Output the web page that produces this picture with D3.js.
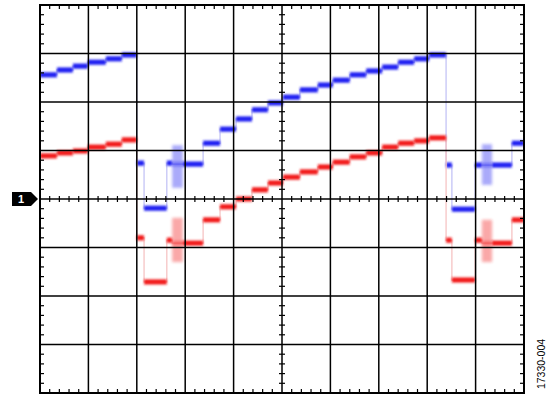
<!DOCTYPE html>
<html>
<head>
<meta charset="utf-8">
<title>17330-004</title>
<style>
body { margin: 0; background: #fff; }
svg { display: block; }
.grid line { stroke: #000; stroke-width: 1.5; }
.ticks line { stroke: #000; stroke-width: 1.2; }
</style>
</head>
<body>
<svg width="549" height="394"></svg>
<script src="https://cdn.jsdelivr.net/npm/d3@7"></script>
<script>
// step edges, in horizontal divisions; both channels switch together
var stepEdges = [0, 0.35, 0.68, 0.99, 1.36, 1.69, 2.00, 2.15, 2.62, 2.73, 2.95, 3.37, 3.72, 4.05,
  4.38, 4.71, 5.02, 5.37, 5.74, 6.05, 6.40, 6.74, 7.07, 7.40, 7.73, 8.04, 8.39, 8.51, 8.99,
  9.13, 9.34, 9.75, 10];

// level of each step, in vertical divisions from the "1" marker
var blueLevels = [2.56, 2.66, 2.74, 2.82, 2.89, 2.97, 0.74, -0.19, 0.74, 0.72, 0.72, 1.15, 1.44,
  1.65, 1.84, 1.98, 2.10, 2.25, 2.35, 2.45, 2.56, 2.64, 2.72, 2.82, 2.89, 2.97, 0.70, -0.21,
  0.70, 0.70, 0.70, 1.15];
var redLevels = [0.89, 0.95, 0.99, 1.07, 1.13, 1.22, -0.80, -1.71, -0.85, -0.91, -0.91, -0.43,
  -0.16, 0.00, 0.19, 0.33, 0.45, 0.56, 0.66, 0.76, 0.87, 0.95, 1.07, 1.15, 1.20, 1.26, -0.85,
  -1.67, -0.85, -0.91, -0.91, -0.43];

// noisy bursts: [start, end, low, high]
var blueBursts = [[2.73, 2.95, 0.23, 1.11], [9.13, 9.34, 0.29, 1.13]];
var redBursts = [[2.73, 2.95, -1.30, -0.39], [9.13, 9.34, -1.30, -0.43]];

var xDivs = d3.range(0, 11);
var yDivs = d3.range(-4, 5);

var svg = d3.select("svg");

var x = d3.scaleLinear().domain([0, 10]).range([40, 524]);
var y = d3.scaleLinear().domain([-4, 4]).range([393, 5]);

var defs = svg.append("defs");
// user space filter regions, so flat lines still blur
defs.append("filter").attr("id", "soft")
    .attr("filterUnits", "userSpaceOnUse")
    .attr("x", 0).attr("y", 0).attr("width", 549).attr("height", 394)
  .append("feGaussianBlur").attr("stdDeviation", 0.9);
defs.append("filter").attr("id", "softer")
    .attr("filterUnits", "userSpaceOnUse")
    .attr("x", 0).attr("y", 0).attr("width", 549).attr("height", 394)
  .append("feGaussianBlur").attr("stdDeviation", 1.4);
defs.append("clipPath").attr("id", "plot")
  .append("rect")
    .attr("x", x(0)).attr("y", y(4))
    .attr("width", x(10) - x(0)).attr("height", y(-4) - y(4));

function inBurst(bursts, i) {
  return bursts.some(function(b) { return stepEdges[i] >= b[0] - 0.001 && stepEdges[i + 1] <= b[1] + 0.001; });
}

function drawTrace(levels, bursts, color, faint) {
  var g = svg.append("g").attr("clip-path", "url(#plot)");

  // thin transitions
  var pts = levels.map(function(v, i) { return [stepEdges[i], v]; });
  pts.push([10, levels[levels.length - 1]]);
  g.append("path")
      .attr("d", d3.line()
        .x(function(d) { return x(d[0]); })
        .y(function(d) { return y(d[1]); })
        .curve(d3.curveStepAfter)(pts))
      .attr("fill", "none")
      .attr("stroke", faint)
      .attr("stroke-width", 1.3);

  // bursts
  g.selectAll("rect.burst")
    .data(bursts)
    .enter().append("rect")
      .attr("class", "burst")
      .attr("x", function(d) { return x(d[0]); })
      .attr("width", function(d) { return x(d[1]) - x(d[0]); })
      .attr("y", function(d) { return y(d[3]); })
      .attr("height", function(d) { return y(d[2]) - y(d[3]); })
      .attr("fill", color)
      .attr("opacity", 0.38)
      .attr("filter", "url(#softer)");

  // flat steps
  g.selectAll("line.step")
    .data(levels)
    .enter().append("line")
      .attr("class", "step")
      .attr("x1", function(d, i) { return x(stepEdges[i]); })
      .attr("x2", function(d, i) { return x(stepEdges[i + 1]); })
      .attr("y1", function(d) { return y(d); })
      .attr("y2", function(d) { return y(d); })
      .attr("stroke", color)
      .attr("stroke-width", 5.2)
      .attr("opacity", function(d, i) { return inBurst(bursts, i) ? 0.35 : 1; })
      .attr("filter", "url(#soft)");
}

drawTrace(blueLevels, blueBursts, "#2424f2", "#c4c4f6");
drawTrace(redLevels, redBursts, "#f21f1f", "#f6c4c4");

// graticule
var grid = svg.append("g").attr("class", "grid");
grid.selectAll("line.v")
  .data(xDivs.slice(1, -1))
  .enter().append("line")
    .attr("class", "v")
    .attr("x1", function(d) { return x(d); }).attr("x2", function(d) { return x(d); })
    .attr("y1", y(4)).attr("y2", y(-4));
grid.selectAll("line.h")
  .data(yDivs.slice(1, -1))
  .enter().append("line")
    .attr("class", "h")
    .attr("y1", function(d) { return y(d); }).attr("y2", function(d) { return y(d); })
    .attr("x1", x(0)).attr("x2", x(10));

svg.append("rect")
    .attr("x", x(0)).attr("y", y(4))
    .attr("width", x(10) - x(0)).attr("height", y(-4) - y(4))
    .attr("fill", "none")
    .attr("stroke", "#000")
    .attr("stroke-width", 2);

// minor ticks, five per division
var xMinor = d3.range(1, 50).map(function(i) { return i / 5; }).filter(function(d) { return Math.abs(d - Math.round(d)) > 0.01; });
var yMinor = d3.range(-19, 20).map(function(i) { return i / 5; }).filter(function(d) { return Math.abs(d - Math.round(d)) > 0.01; });
var ticks = svg.append("g").attr("class", "ticks");

function hTicks(yPos, up, down) {
  ticks.append("g").selectAll("line")
    .data(xMinor)
    .enter().append("line")
      .attr("x1", function(d) { return x(d); }).attr("x2", function(d) { return x(d); })
      .attr("y1", y(yPos) - up).attr("y2", y(yPos) + down);
}
function vTicks(xPos, left, right) {
  ticks.append("g").selectAll("line")
    .data(yMinor)
    .enter().append("line")
      .attr("y1", function(d) { return y(d); }).attr("y2", function(d) { return y(d); })
      .attr("x1", x(xPos) - left).attr("x2", x(xPos) + right);
}
hTicks(4, 0, 4);
hTicks(-4, 4, 0);
hTicks(0, 3, 3);
vTicks(0, 0, 4);
vTicks(10, 4, 0);
vTicks(5, 3, 3);

// channel 1 ground marker
var m = svg.append("g").attr("transform", "translate(0," + y(0) + ")");
m.append("polygon")
    .attr("points", "12,-7 31,-7 38,0 31,7 12,7")
    .attr("fill", "#000");
m.append("text")
    .attr("x", 21).attr("y", 4)
    .attr("text-anchor", "middle")
    .attr("fill", "#fff")
    .attr("font-family", "Liberation Sans, Arial, sans-serif")
    .attr("font-weight", "bold")
    .attr("font-size", 11)
    .text("1");

svg.append("text")
    .attr("transform", "translate(545,364) rotate(-90)")
    .attr("text-anchor", "middle")
    .attr("font-family", "Liberation Sans, Arial, sans-serif")
    .attr("font-size", 10.5)
    .attr("fill", "#000")
    .text("17330-004");
</script>
</body>
</html>
